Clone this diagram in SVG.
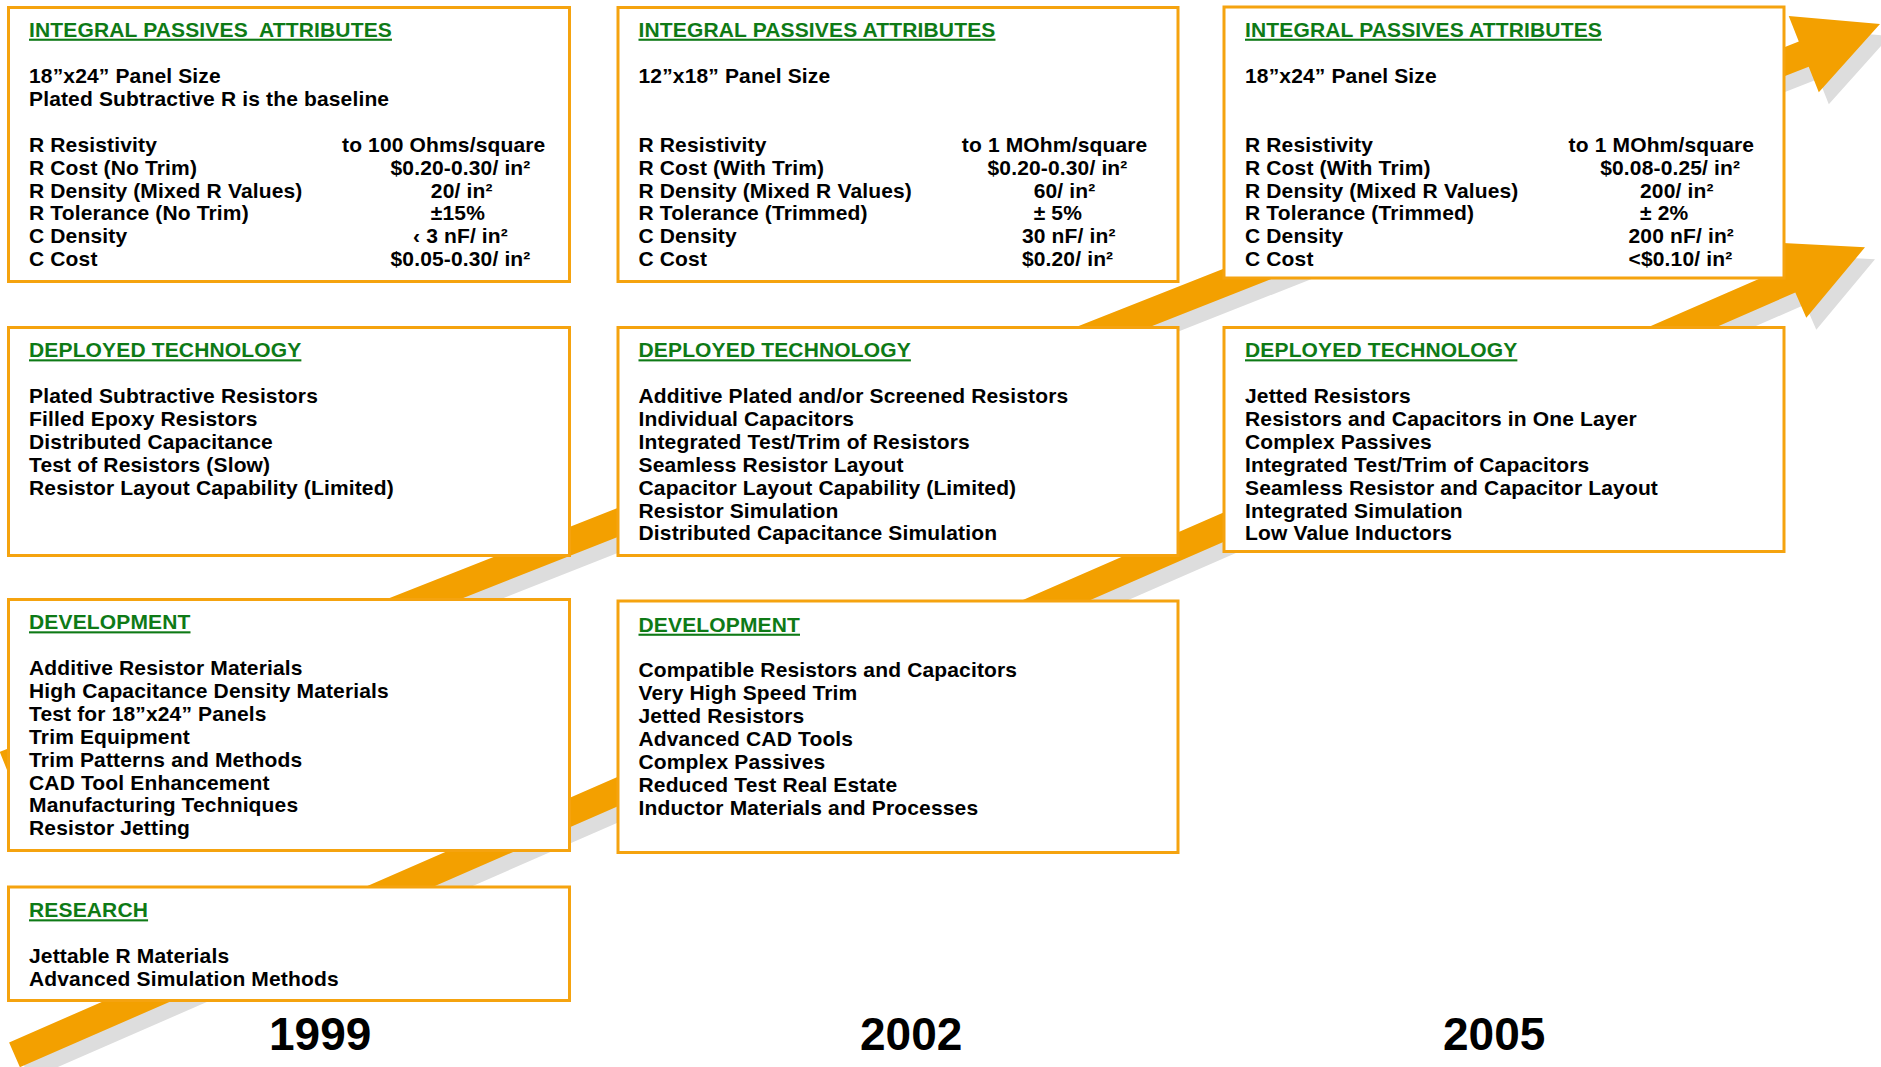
<svg xmlns="http://www.w3.org/2000/svg" width="1881" height="1067" viewBox="0 0 1881 1067">
  <style>
    .box { fill: #ffffff; stroke: #F5A30F; stroke-width: 3; }
    .t { font-family: "Liberation Sans", Arial, sans-serif; font-weight: bold; font-size: 21px; letter-spacing: 0.15px; fill: #000000; }
    .h { fill: #0E7A16; text-decoration: underline; white-space: pre; }
    .yr { font-family: "Liberation Sans", Arial, sans-serif; font-weight: bold; font-size: 46px; fill: #000000; }
    .arrow { fill: #F3A000; }
    .shadow { fill: #DDDDDD; }
  </style>
  <defs>
    <!-- two rising timeline arrows -->
    <polygon id="arrowUpper" points="-0.2,751.9 1798.8,41.6 1788.7,16 1880,24 1818.8,92.3 1808.7,66.7 9.8,777.1"/>
    <polygon id="arrowLower" points="9.1,1042.4 1784.5,267.7 1773.5,242.5 1865,247.3 1806.3,317.7 1795.3,292.5 19.9,1067.2"/>
  </defs>

  <rect x="0" y="0" width="1881" height="1067" fill="#ffffff"/>

  <g id="connectors">
    <use href="#arrowUpper" class="shadow" transform="translate(10,12)"/>
    <use href="#arrowLower" class="shadow" transform="translate(10,12)"/>
    <use href="#arrowUpper" class="arrow"/>
    <use href="#arrowLower" class="arrow"/>
  </g>

  <!-- 1999 column -->
  <g id="attr-1999">
    <rect class="box" x="8.5" y="7.5" width="561" height="274"/>
    <text class="t h" x="29" y="36.7">INTEGRAL PASSIVES  ATTRIBUTES</text>
    <text class="t" x="29" y="82.7">18”x24” Panel Size</text>
    <text class="t" x="29" y="105.6">Plated Subtractive R is the baseline</text>
    <text class="t">
      <tspan x="29" y="151.7">R Resistivity</tspan>
      <tspan x="29" y="174.6">R Cost (No Trim)</tspan>
      <tspan x="29" y="197.5">R Density (Mixed R Values)</tspan>
      <tspan x="29" y="220.4">R Tolerance (No Trim)</tspan>
      <tspan x="29" y="243.3">C Density</tspan>
      <tspan x="29" y="266.2">C Cost</tspan>
    </text>
    <text class="t">
      <tspan x="342" y="151.7">to 100 Ohms/square</tspan>
      <tspan x="390.5" y="174.6">$0.20-0.30/ in²</tspan>
      <tspan x="430.8" y="197.5">20/ in²</tspan>
      <tspan x="430.8" y="220.4">±15%</tspan>
      <tspan x="413" y="243.3">‹ 3 nF/ in²</tspan>
      <tspan x="390.5" y="266.2">$0.05-0.30/ in²</tspan>
    </text>
  </g>

  <g id="deployed-1999">
    <rect class="box" x="8.5" y="327.5" width="561" height="228"/>
    <text class="t h" x="29" y="357.3">DEPLOYED TECHNOLOGY</text>
    <text class="t">
      <tspan x="29" y="403">Plated Subtractive Resistors</tspan>
      <tspan x="29" y="425.9">Filled Epoxy Resistors</tspan>
      <tspan x="29" y="448.8">Distributed Capacitance</tspan>
      <tspan x="29" y="471.7">Test of Resistors (Slow)</tspan>
      <tspan x="29" y="494.6">Resistor Layout Capability (Limited)</tspan>
    </text>
  </g>

  <g id="development-1999">
    <rect class="box" x="8.5" y="599.5" width="561" height="251"/>
    <text class="t h" x="29" y="629.3">DEVELOPMENT</text>
    <text class="t">
      <tspan x="29" y="675">Additive Resistor Materials</tspan>
      <tspan x="29" y="697.9">High Capacitance Density Materials</tspan>
      <tspan x="29" y="720.8">Test for 18”x24” Panels</tspan>
      <tspan x="29" y="743.7">Trim Equipment</tspan>
      <tspan x="29" y="766.6">Trim Patterns and Methods</tspan>
      <tspan x="29" y="789.5">CAD Tool Enhancement</tspan>
      <tspan x="29" y="812.4">Manufacturing Techniques</tspan>
      <tspan x="29" y="835.3">Resistor Jetting</tspan>
    </text>
  </g>

  <g id="research-1999">
    <rect class="box" x="8.5" y="887" width="561" height="113.5"/>
    <text class="t h" x="29" y="917.3">RESEARCH</text>
    <text class="t">
      <tspan x="29" y="963">Jettable R Materials</tspan>
      <tspan x="29" y="985.9">Advanced Simulation Methods</tspan>
    </text>
  </g>

  <!-- 2002 column -->
  <g id="attr-2002">
    <rect class="box" x="618" y="7.5" width="560" height="274"/>
    <text class="t h" x="638.5" y="36.7">INTEGRAL PASSIVES ATTRIBUTES</text>
    <text class="t" x="638.5" y="82.7">12”x18” Panel Size</text>
    <text class="t">
      <tspan x="638.5" y="151.7">R Resistivity</tspan>
      <tspan x="638.5" y="174.6">R Cost (With Trim)</tspan>
      <tspan x="638.5" y="197.5">R Density (Mixed R Values)</tspan>
      <tspan x="638.5" y="220.4">R Tolerance (Trimmed)</tspan>
      <tspan x="638.5" y="243.3">C Density</tspan>
      <tspan x="638.5" y="266.2">C Cost</tspan>
    </text>
    <text class="t">
      <tspan x="961.8" y="151.7">to 1 MOhm/square</tspan>
      <tspan x="987.5" y="174.6">$0.20-0.30/ in²</tspan>
      <tspan x="1033.7" y="197.5">60/ in²</tspan>
      <tspan x="1033.7" y="220.4">± 5%</tspan>
      <tspan x="1021.9" y="243.3">30 nF/ in²</tspan>
      <tspan x="1021.9" y="266.2">$0.20/ in²</tspan>
    </text>
  </g>

  <g id="deployed-2002">
    <rect class="box" x="618" y="327.5" width="560" height="228"/>
    <text class="t h" x="638.5" y="357.3">DEPLOYED TECHNOLOGY</text>
    <text class="t">
      <tspan x="638.5" y="403">Additive Plated and/or Screened Resistors</tspan>
      <tspan x="638.5" y="425.9">Individual Capacitors</tspan>
      <tspan x="638.5" y="448.8">Integrated Test/Trim of Resistors</tspan>
      <tspan x="638.5" y="471.7">Seamless Resistor Layout</tspan>
      <tspan x="638.5" y="494.6">Capacitor Layout Capability (Limited)</tspan>
      <tspan x="638.5" y="517.5">Resistor Simulation</tspan>
      <tspan x="638.5" y="540.4">Distributed Capacitance Simulation</tspan>
    </text>
  </g>

  <g id="development-2002">
    <rect class="box" x="618" y="601" width="560" height="251.5"/>
    <text class="t h" x="638.5" y="631.7">DEVELOPMENT</text>
    <text class="t">
      <tspan x="638.5" y="677.4">Compatible Resistors and Capacitors</tspan>
      <tspan x="638.5" y="700.3">Very High Speed Trim</tspan>
      <tspan x="638.5" y="723.2">Jetted Resistors</tspan>
      <tspan x="638.5" y="746.1">Advanced CAD Tools</tspan>
      <tspan x="638.5" y="769">Complex Passives</tspan>
      <tspan x="638.5" y="791.9">Reduced Test Real Estate</tspan>
      <tspan x="638.5" y="814.8">Inductor Materials and Processes</tspan>
    </text>
  </g>

  <!-- 2005 column -->
  <g id="attr-2005">
    <rect class="box" x="1224" y="7" width="560" height="271"/>
    <text class="t h" x="1245" y="36.7">INTEGRAL PASSIVES ATTRIBUTES</text>
    <text class="t" x="1245" y="82.7">18”x24” Panel Size</text>
    <text class="t">
      <tspan x="1245" y="151.7">R Resistivity</tspan>
      <tspan x="1245" y="174.6">R Cost (With Trim)</tspan>
      <tspan x="1245" y="197.5">R Density (Mixed R Values)</tspan>
      <tspan x="1245" y="220.4">R Tolerance (Trimmed)</tspan>
      <tspan x="1245" y="243.3">C Density</tspan>
      <tspan x="1245" y="266.2">C Cost</tspan>
    </text>
    <text class="t">
      <tspan x="1568.6" y="151.7">to 1 MOhm/square</tspan>
      <tspan x="1600.2" y="174.6">$0.08-0.25/ in²</tspan>
      <tspan x="1640" y="197.5">200/ in²</tspan>
      <tspan x="1640" y="220.4">± 2%</tspan>
      <tspan x="1628.5" y="243.3">200 nF/ in²</tspan>
      <tspan x="1628.5" y="266.2">&lt;$0.10/ in²</tspan>
    </text>
  </g>

  <g id="deployed-2005">
    <rect class="box" x="1224" y="327.5" width="560" height="224"/>
    <text class="t h" x="1245" y="357.3">DEPLOYED TECHNOLOGY</text>
    <text class="t">
      <tspan x="1245" y="403">Jetted Resistors</tspan>
      <tspan x="1245" y="425.9">Resistors and Capacitors in One Layer</tspan>
      <tspan x="1245" y="448.8">Complex Passives</tspan>
      <tspan x="1245" y="471.7">Integrated Test/Trim of Capacitors</tspan>
      <tspan x="1245" y="494.6">Seamless Resistor and Capacitor Layout</tspan>
      <tspan x="1245" y="517.5">Integrated Simulation</tspan>
      <tspan x="1245" y="540.4">Low Value Inductors</tspan>
    </text>
  </g>

  <!-- year labels -->
  <g id="years">
    <text class="yr" x="269" y="1050">1999</text>
    <text class="yr" x="860" y="1050">2002</text>
    <text class="yr" x="1443" y="1050">2005</text>
  </g>
</svg>
